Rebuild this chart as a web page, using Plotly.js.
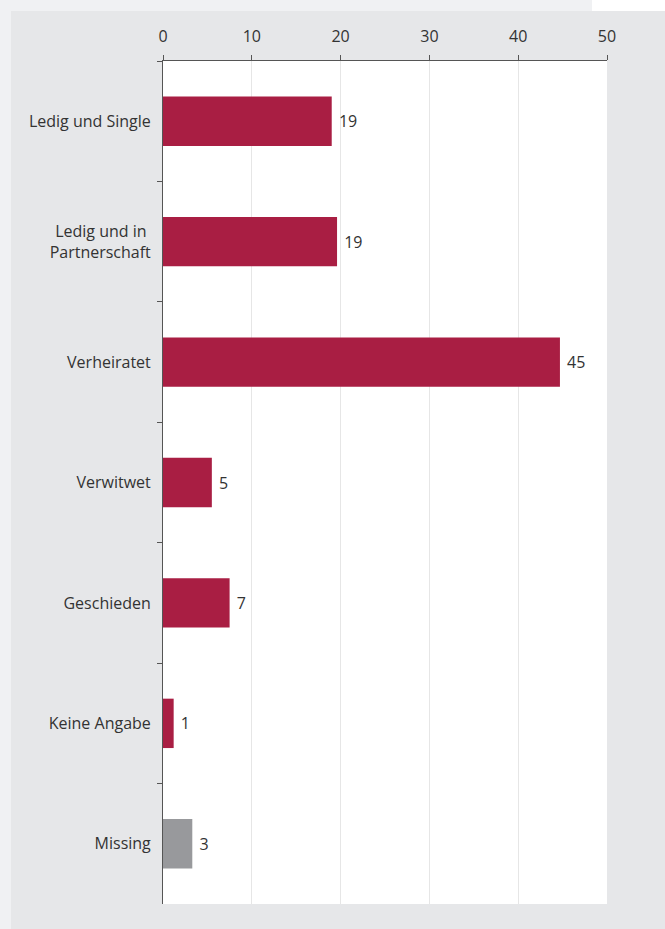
<!DOCTYPE html>
<html>
<head>
<meta charset="utf-8">
<script src="https://cdn.plot.ly/plotly-3.0.1.min.js"></script>
<style>
html,body{margin:0;padding:0;background:#f0f1f3;width:665px;height:929px;overflow:hidden;position:relative;}
#corner{position:absolute;left:592px;top:0;width:73px;height:11px;background:#ffffff;}
#chart{position:absolute;left:11px;top:11px;width:654px;height:918px;}
</style>
</head>
<body>
<div id="corner"></div>
<div id="chart"></div>
<script>
const categories = ["Ledig und Single", "Ledig und in&nbsp;<br>Partnerschaft", "Verheiratet", "Verwitwet", "Geschieden", "Keine Angabe", "Missing"];
const values = [19.0, 19.6, 44.7, 5.5, 7.5, 1.2, 3.3];
const labels = ["19", "19", "45", "5", "7", "1", "3"];
const barColors = ["#a91e43", "#a91e43", "#a91e43", "#a91e43", "#a91e43", "#a91e43", "#98999c"];
const xTicks = [0, 10, 20, 30, 40, 50];

const font = "'Open Sans', 'Noto Sans', sans-serif";

const trace = {
  type: "bar",
  orientation: "h",
  y: categories,
  x: values,
  text: labels,
  textposition: "outside",
  texttemplate: "&nbsp;%{text}",
  cliponaxis: false,
  width: 0.41,
  marker: {color: barColors, line: {width: 0}},
  textfont: {family: font, size: 16, color: "#333333"},
  hoverinfo: "skip"
};

const layout = {
  width: 654,
  height: 918,
  margin: {l: 152, r: 58, t: 50, b: 25, pad: 0},
  paper_bgcolor: "#e6e7e9",
  plot_bgcolor: "#ffffff",
  showlegend: false,
  font: {family: font, size: 16, color: "#333333"},
  xaxis: {
    side: "top",
    range: [0, 50],
    tickvals: xTicks,
    ticktext: xTicks.map(String),
    ticks: "outside",
    ticklen: 5,
    tickcolor: "#555555",
    ticklabelstandoff: 7,
    showline: true,
    linecolor: "#555555",
    linewidth: 1,
    showgrid: true,
    gridcolor: "#e6e6e6",
    gridwidth: 1,
    zeroline: false,
    tickfont: {family: font, size: 16, color: "#333333"},
    fixedrange: true
  },
  yaxis: {
    type: "category",
    categoryorder: "array",
    categoryarray: categories,
    range: [6.5, -0.5],
    tickson: "boundaries",
    ticks: "outside",
    ticklen: 5,
    tickcolor: "#555555",
    ticklabelstandoff: 8,
    showline: true,
    linecolor: "#555555",
    linewidth: 1,
    showgrid: false,
    zeroline: false,
    tickfont: {family: font, size: 16, color: "#333333"},
    fixedrange: true
  },
  bargap: 0.59
};

Plotly.newPlot("chart", [trace], layout, {displayModeBar: false, staticPlot: true});
</script>
</body>
</html>
